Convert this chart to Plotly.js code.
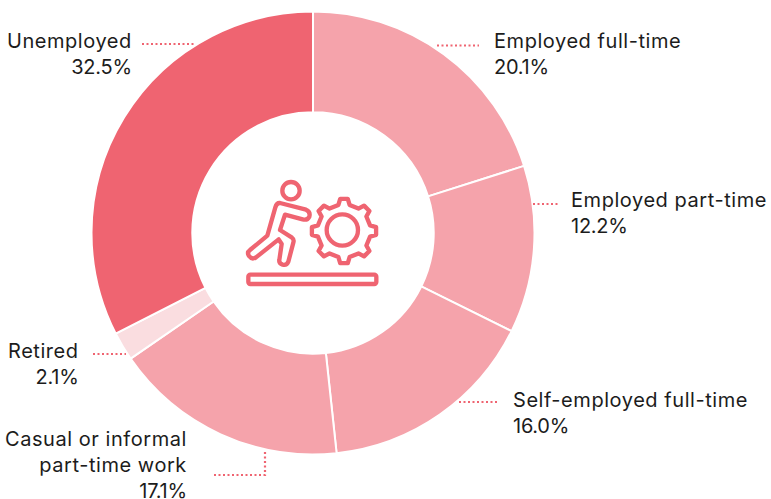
<!DOCTYPE html>
<html><head><meta charset="utf-8">
<script src="https://cdn.plot.ly/plotly-3.0.1.min.js"></script>
<style>html,body{margin:0;padding:0;background:#fff}#c{width:771px;height:499px}.annotation-text{letter-spacing:.55px}</style>
</head><body><div id="c"></div>
<script>
const categories = ["Employed full-time","Employed part-time","Self-employed full-time","Casual or informal part-time work","Retired","Unemployed"];
const values = [20.1,12.2,16.0,17.1,2.1,32.5];
const sliceColors = ["#F5A3AB","#F5A3AB","#F5A3AB","#F5A3AB","#FADDE0","#EF6471"];
const W=771,H=499;
const px=x=>x/W, py=y=>1-y/H;
const pct=s=>`<span style="letter-spacing:-0.25px">${s}</span>`;
const labelTexts = [
 {t:"Employed full-time<br>"+pct("20.1%"),x:493,y:54,a:"left"},
 {t:"Employed part-time<br>"+pct("12.2%"),x:570,y:213,a:"left"},
 {t:"Self-employed full-time<br>"+pct("16.0%"),x:512,y:413,a:"left"},
 {t:"Casual or informal<br>part-time work<br>"+pct("17.1%"),x:188,y:465,a:"right"},
 {t:"Retired<br>"+pct("2.1%"),x:80,y:364,a:"right"},
 {t:"Unemployed<br>"+pct("32.5%"),x:133,y:54,a:"right"}
];
const leaders = ["M437,45.5 L479,45.5","M533,204 L560,204","M459,402 L498,402","M265,452 L265,475 L212,475","M93,354 L126,354","M142,44 L195,44"];
function gear(){
  const cx=342,cy=183,n=8;let d="";
  for(let i=0;i<n;i++){
    const s=2*Math.PI/n,a=i*s-Math.PI/2;
    const pts=[[a-s*0.27,80],[a-s*0.15,97],[a+s*0.15,97],[a+s*0.27,80]];
    pts.forEach((p,j)=>{d+=(i===0&&j===0?"M":"L")+(cx+p[1]*Math.cos(p[0])).toFixed(1)+","+(cy+p[1]*Math.sin(p[0])).toFixed(1)+" ";});
  }
  return d+"Z";
}
const icon=`<svg xmlns="http://www.w3.org/2000/svg" viewBox="0 0 480 390" width="480" height="390"><g fill="none" stroke="#EF6471" stroke-width="13" stroke-linejoin="round" stroke-linecap="round"><circle cx="183" cy="62" r="26"/><circle cx="337" cy="180" r="47"/><path d="${gear()}"/><rect x="55" y="314" width="384" height="28" rx="6"/><path d="M150,99 L228,119 Q242,125 238,140 Q232,152 218,148 L165,134 L150,180 L186,203 Q193,208 190,218 L175,275 Q170,287 158,284 Q146,280 148,270 L155,222 L146,208 L78,262 Q66,270 57,258 Q50,247 60,240 L112,197 L136,112 Q140,98 150,99 Z"/></g></svg>`;
const data=[{type:"pie",labels:categories,values:values,hole:0.545,sort:false,direction:"clockwise",rotation:0,
 marker:{colors:sliceColors,line:{color:"#fff",width:2}},textinfo:"none",hoverinfo:"label+percent",
 domain:{x:[px(91.5),px(534.5)],y:[py(454.5),py(11.5)]}}];
const layout={width:W,height:H,margin:{l:0,r:0,t:0,b:0},paper_bgcolor:"#fff",showlegend:false,
 font:{family:"Inter, sans-serif",size:20,color:"#1c1c1c"},
 annotations:labelTexts.map(l=>({xref:"paper",yref:"paper",x:px(l.x),y:py(l.y),text:l.t,showarrow:false,xanchor:l.a,yanchor:"middle",align:l.a,borderpad:0,font:{family:"Inter, sans-serif",size:20,color:"#1c1c1c"}})),
 shapes:leaders.map(d=>{
  const path=d.replace(/([ML])([\d.]+),([\d.]+)/g,(m,c,x,y)=>c+px(+x)+","+py(+y));
  return {type:"path",xref:"paper",yref:"paper",path:path,line:{color:"#EF6471",width:2.2,dash:"2px,2.5px"},fillcolor:"rgba(0,0,0,0)"};
 }),
 images:[{source:"data:image/svg+xml;base64,"+btoa(icon),xref:"paper",yref:"paper",x:px(230),y:py(170),sizex:160/W,sizey:130/H,xanchor:"left",yanchor:"top",sizing:"stretch",layer:"above"}]
};
Plotly.newPlot("c",data,layout,{displayModeBar:false,staticPlot:true});
</script></body></html>
